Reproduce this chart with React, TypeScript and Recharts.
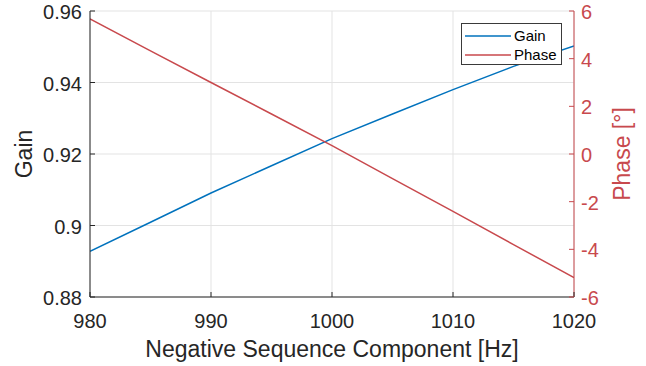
import React from 'react';
import { LineChart, Line, XAxis, YAxis, CartesianGrid, Legend, Label } from 'recharts';

const freqs = [980, 985, 990, 995, 1000, 1005, 1010, 1015, 1020];
const gainValues = [0.8928, 0.9009, 0.9091, 0.9167, 0.9243, 0.9312, 0.938, 0.9445, 0.9502];
const phaseValues = [5.67, 4.33, 3.0, 1.68, 0.35, -1.03, -2.41, -3.8, -5.19];

const xTicks = [980, 990, 1000, 1010, 1020];
const gainTicks = [0.88, 0.9, 0.92, 0.94, 0.96];
const phaseTicks = [-6, -4, -2, 0, 2, 4, 6];

const data = freqs.map((f, i) => ({ f, gain: gainValues[i], phase: phaseValues[i] }));

const FONT = '"Liberation Sans", Arial, Helvetica, sans-serif';
const DARK = '#262626';
const BLUE = '#0072BD';
const RED = '#C8494D';
const TICK_FS = 20;
const LABEL_FS = 23;
const TL = 5;

const fmt = (v: number) => String(Number(v.toFixed(2)));

const LeftTick = (props: any) => {
  const { x, y, payload } = props;
  return (
    <g>
      <line x1={x + 8} x2={x + 8 + TL} y1={y} y2={y} stroke={DARK} strokeWidth={1} />
      <text x={x} y={y + 1} dy="0.355em" textAnchor="end" fontSize={TICK_FS} fontFamily={FONT} fill={DARK}>
        {fmt(payload.value)}
      </text>
    </g>
  );
};

const RightTick = (props: any) => {
  const { x, y, payload } = props;
  return (
    <g>
      <line x1={x - 7} x2={x - 7 - TL} y1={y} y2={y} stroke={RED} strokeWidth={1} />
      <text x={x} y={y + 1} dy="0.355em" textAnchor="start" fontSize={TICK_FS} fontFamily={FONT} fill={RED}>
        {fmt(payload.value)}
      </text>
    </g>
  );
};

const BottomTick = (props: any) => {
  const { x, y, payload } = props;
  return (
    <g>
      <line x1={x} x2={x} y1={y - 17} y2={y - 17 - TL} stroke={DARK} strokeWidth={1} />
      <text x={x} y={y} dy="0.71em" textAnchor="middle" fontSize={TICK_FS} fontFamily={FONT} fill={DARK}>
        {fmt(payload.value)}
      </text>
    </g>
  );
};

const TopTick = (props: any) => {
  const { x, y } = props;
  return <line x1={x} x2={x} y1={y} y2={y + TL} stroke={DARK} strokeWidth={1} />;
};

const LegendContent = (props: any) => {
  const items = (props.payload || []).filter((p: any) => p.value);
  return (
    <div
      style={{
        boxSizing: 'border-box',
        width: 101,
        height: 42,
        border: '1px solid #3a3a3a',
        background: '#fff',
        fontFamily: FONT,
        fontSize: 15,
        color: '#000',
        padding: '2px 0 0 3px',
      }}
    >
      {items.map((it: any) => (
        <div key={it.value} style={{ display: 'flex', alignItems: 'center', height: 19 }}>
          <svg width={46} height={4} style={{ display: 'block' }}>
            <line x1={0} x2={46} y1={2} y2={2} stroke={it.color} strokeWidth={1.5} />
          </svg>
          <span style={{ marginLeft: 3, lineHeight: '19px' }}>{it.value}</span>
        </div>
      ))}
    </div>
  );
};

export default function App() {
  return (
    <div style={{ position: 'absolute', left: 0, top: 0, width: 646, height: 366, background: '#fff' }}>
      <LineChart width={646} height={366} data={data} margin={{ top: 11, right: 0, bottom: 0, left: 0 }}>
        <CartesianGrid stroke="#e3e3e3" strokeWidth={1} yAxisId="left" xAxisId={0} />
        <XAxis
          xAxisId={0}
          dataKey="f"
          type="number"
          domain={[980, 1020]}
          ticks={xTicks}
          height={69}
          tickSize={0}
          tickMargin={17}
          tickLine={false}
          axisLine={{ stroke: DARK, strokeWidth: 1 }}
          tick={<BottomTick />}
          allowDataOverflow
        >
          <Label
            content={(p: any) => {
              const vb = p.viewBox || { x: 90, y: 297, width: 484, height: 69 };
              return (
                <text x={vb.x + vb.width / 2} y={vb.y + 60} textAnchor="middle" fontSize={LABEL_FS} fontFamily={FONT} fill={DARK}>
                  Negative Sequence Component [Hz]
                </text>
              );
            }}
          />
        </XAxis>
        <XAxis
          xAxisId="top"
          orientation="top"
          dataKey="f"
          type="number"
          domain={[980, 1020]}
          ticks={xTicks}
          height={0}
          tickSize={0}
          tickMargin={0}
          tickLine={false}
          axisLine={{ stroke: DARK, strokeWidth: 1 }}
          tick={<TopTick />}
          allowDataOverflow
        />
        <YAxis
          yAxisId="left"
          orientation="left"
          type="number"
          domain={[0.88, 0.96]}
          ticks={gainTicks}
          width={90}
          tickSize={0}
          tickMargin={8}
          tickLine={false}
          axisLine={{ stroke: DARK, strokeWidth: 1 }}
          tick={<LeftTick />}
          allowDataOverflow
        >
          <Label
            content={(p: any) => {
              const vb = p.viewBox || { x: 0, y: 11, width: 90, height: 286 };
              const cx = vb.x + 24;
              const cy = vb.y + vb.height / 2;
              return (
                <text x={cx} y={cy} dy="0.355em" transform={`rotate(-90 ${cx} ${cy})`} textAnchor="middle" fontSize={LABEL_FS} fontFamily={FONT} fill={DARK}>
                  Gain
                </text>
              );
            }}
          />
        </YAxis>
        <YAxis
          yAxisId="right"
          orientation="right"
          type="number"
          domain={[-6, 6]}
          ticks={phaseTicks}
          width={72}
          tickSize={0}
          tickMargin={7}
          tickLine={false}
          axisLine={{ stroke: RED, strokeWidth: 1 }}
          tick={<RightTick />}
          allowDataOverflow
        >
          <Label
            content={(p: any) => {
              const vb = p.viewBox || { x: 574, y: 11, width: 72, height: 286 };
              const cx = vb.x + 48;
              const cy = vb.y + vb.height / 2;
              return (
                <text x={cx} y={cy} dy="0.355em" transform={`rotate(-90 ${cx} ${cy})`} textAnchor="middle" fontSize={LABEL_FS} fontFamily={FONT} fill={RED}>
                  Phase [°]
                </text>
              );
            }}
          />
        </YAxis>
        <Legend
          layout="horizontal"
          verticalAlign="middle"
          content={<LegendContent />}
          wrapperStyle={{ position: 'absolute', left: 461, top: 23, width: 101, height: 42 }}
        />
        <Line
          xAxisId={0}
          yAxisId="left"
          type="linear"
          dataKey="gain"
          name="Gain"
          stroke={BLUE}
          strokeWidth={1.5}
          dot={false}
          activeDot={false}
          isAnimationActive={false}
        />
        <Line
          xAxisId={0}
          yAxisId="right"
          type="linear"
          dataKey="phase"
          name="Phase"
          stroke={RED}
          strokeWidth={1.5}
          dot={false}
          activeDot={false}
          isAnimationActive={false}
        />
      </LineChart>
    </div>
  );
}
